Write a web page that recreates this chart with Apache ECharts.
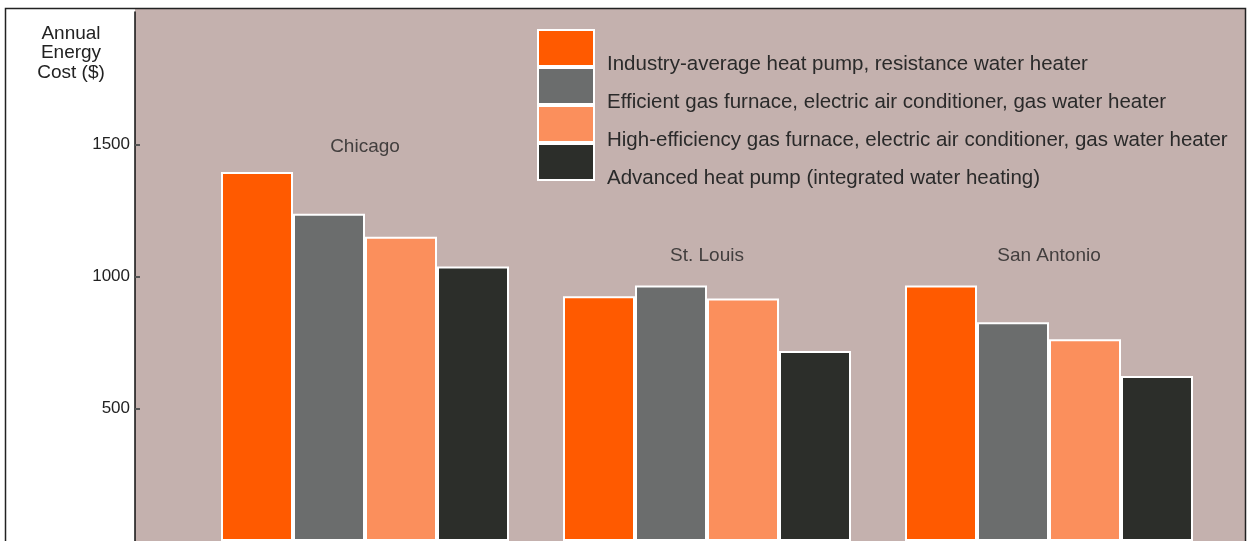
<!DOCTYPE html>
<html lang="en">
<head>
    <meta charset="UTF-8">
    <title>Annual Energy Cost</title>
    <script src="https://cdn.jsdelivr.net/npm/echarts/dist/echarts.min.js"></script>
    <style>
        html, body { margin: 0; padding: 0; background: #ffffff; }
        #chart { width: 1248px; height: 541px; }
    </style>
</head>
<body>
    <div id="chart"></div>
    <script>
        // Data
        var cities = ['Chicago', 'St. Louis', 'San Antonio'];
        var seriesNames = [
            'Industry-average heat pump, resistance water heater',
            'Efficient gas furnace, electric air conditioner, gas water heater',
            'High-efficiency gas furnace, electric air conditioner, gas water heater',
            'Advanced heat pump (integrated water heating)'
        ];
        var industryAvg = [1395, 925, 966];
        var efficientGas = [1237, 966, 827];
        var highEffGas = [1150, 917, 763];
        var advancedHP = [1038, 718, 624];
        // height at which each city name sits above its group
        var cityLabelLevel = [1490, 1080, 1080];
        var yTicks = [500, 1000, 1500];

        var colors = ['#ff5a00', '#6b6d6d', '#fb8f5c', '#2c2e2a'];
        var allValues = [industryAvg, efficientGas, highEffGas, advancedHP];

        var chart = echarts.init(document.getElementById('chart'));

        var barSeries = allValues.map(function (vals, i) {
            return {
                name: seriesNames[i],
                type: 'bar',
                xAxisIndex: 0,
                yAxisIndex: 0,
                data: vals,
                barWidth: 72,
                barGap: '0%',
                itemStyle: { color: colors[i], borderColor: '#ffffff', borderWidth: 2 },
                emphasis: { disabled: true },
                silent: true
            };
        });

        var option = {
            animation: false,
            textStyle: { fontFamily: 'Liberation Sans' },
            graphic: [
                // plot background
                { type: 'rect', z: -10, shape: { x: 135, y: 8, width: 1111, height: 540 },
                  style: { fill: '#c4b1ae' } },
                // outer frame
                { type: 'rect', z: 10, shape: { x: 5.5, y: 8.5, width: 1240, height: 560 },
                  style: { fill: 'none', stroke: '#222', lineWidth: 1.5 } },
                { type: 'text', x: 71, y: 24, z: 10,
                  style: { text: 'Annual\nEnergy\nCost ($)', fill: '#222', font: '19px Liberation Sans',
                           align: 'center', lineHeight: 19.5 } }
            ],
            legend: {
                orient: 'vertical',
                left: 537,
                top: 21,
                padding: 0,
                icon: 'rect',
                itemWidth: 56,
                itemHeight: 36,
                itemGap: -16,
                selectedMode: false,
                data: seriesNames,
                formatter: function (name) { return '{s|}{t|' + name + '}'; },
                textStyle: {
                    fontSize: 20.5, color: '#2a2a2a', padding: [0, 0, 0, 8],
                    rich: {
                        s: { height: 54, lineHeight: 54, width: 0 },
                        t: { fontSize: 20.5, color: '#2a2a2a', lineHeight: 20, verticalAlign: 'bottom' }
                    }
                }
            },
            grid: [
                { left: 194, right: 28, top: 12, bottom: -3 },
                { left: 135, right: 2, top: 12, bottom: -3 }
            ],
            xAxis: [
                { type: 'category', gridIndex: 0, data: cities, show: false },
                { type: 'value', gridIndex: 1, min: 0, max: 1, show: false }
            ],
            yAxis: [
                { type: 'value', gridIndex: 0, min: 0, max: 2000, show: false },
                {
                    type: 'value', gridIndex: 1, min: 0, max: 2000, interval: 500,
                    axisLine: { show: true, lineStyle: { color: '#111', width: 1.5 } },
                    axisTick: { show: true, inside: true, length: 5, lineStyle: { color: '#555', width: 2 } },
                    splitLine: { show: false },
                    axisLabel: {
                        showMinLabel: false, showMaxLabel: false,
                        fontSize: 17, color: '#222', margin: 5,
                        formatter: function (v) { return yTicks.indexOf(v) >= 0 ? String(v) : ''; }
                    }
                }
            ],
            series: barSeries.concat([{
                type: 'scatter',
                xAxisIndex: 0,
                yAxisIndex: 0,
                symbolSize: 0,
                silent: true,
                data: cities.map(function (c, i) { return [c, cityLabelLevel[i]]; }),
                label: {
                    show: true,
                    position: 'inside',
                    fontSize: 19,
                    color: '#222',
                    formatter: function (p) { return p.name; }
                }
            }])
        };

        chart.setOption(option);
    </script>
</body>
</html>
